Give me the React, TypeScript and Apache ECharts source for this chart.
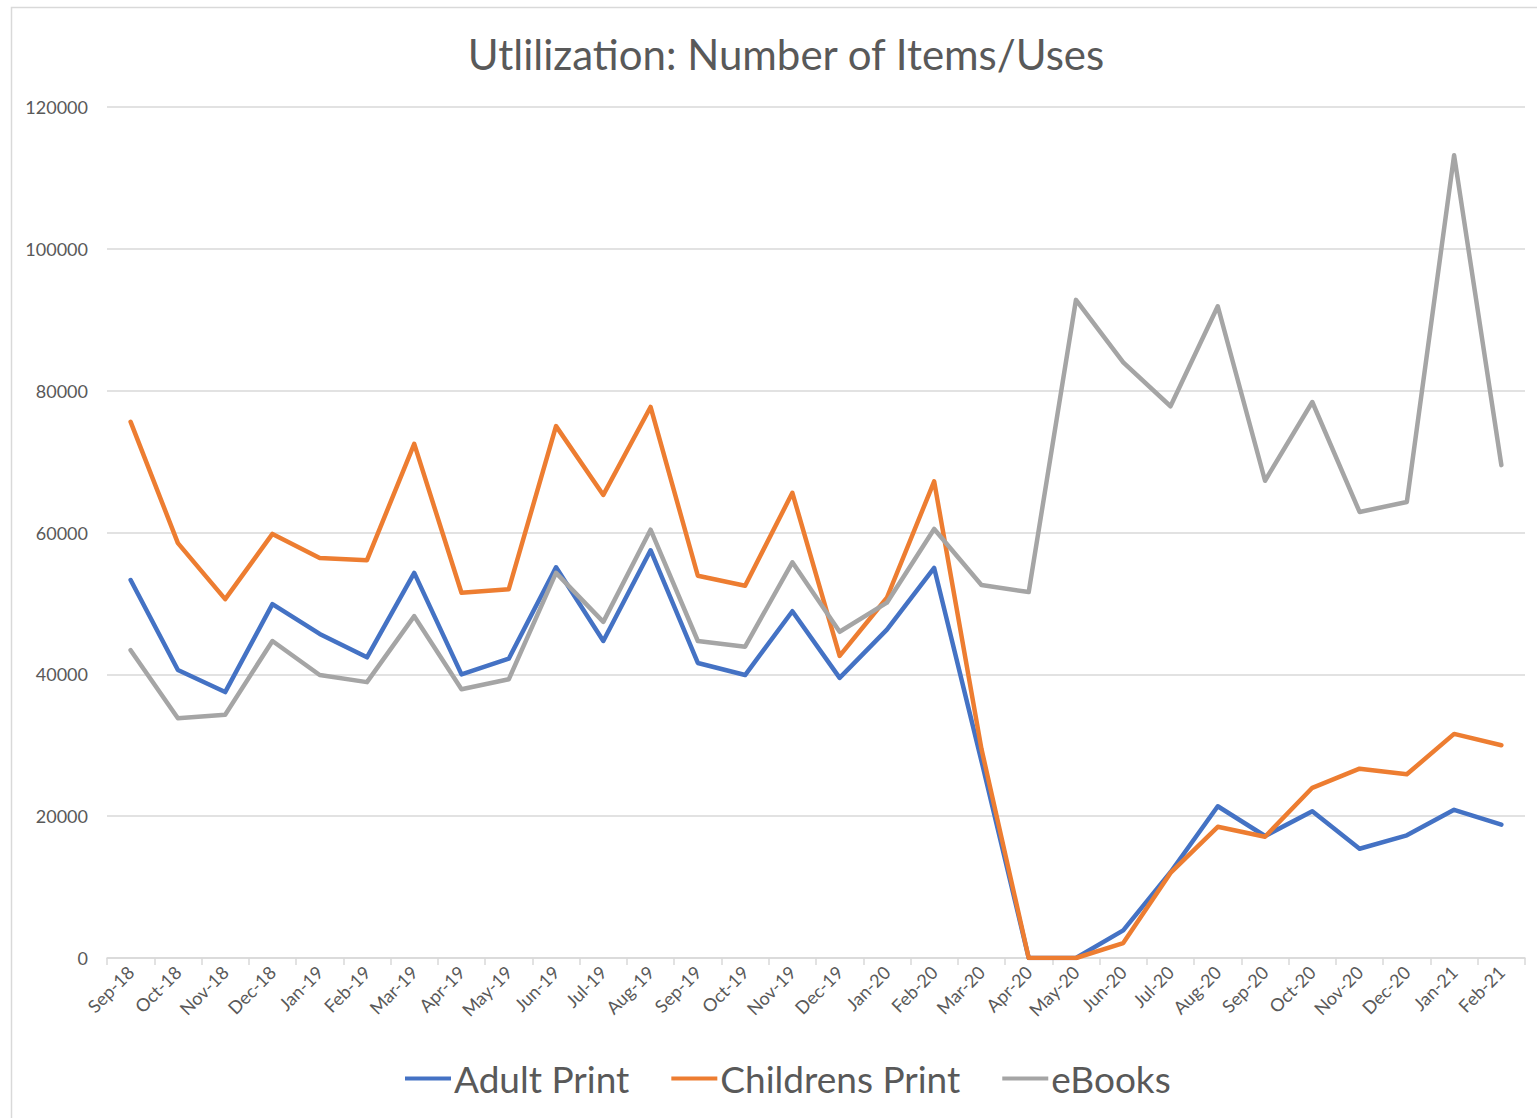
import React, { useEffect, useRef } from "react";
import * as echarts from "echarts";

const categories = [
  "Sep-18", "Oct-18", "Nov-18", "Dec-18", "Jan-19", "Feb-19", "Mar-19", "Apr-19", "May-19", "Jun-19",
  "Jul-19", "Aug-19", "Sep-19", "Oct-19", "Nov-19", "Dec-19", "Jan-20", "Feb-20", "Mar-20", "Apr-20",
  "May-20", "Jun-20", "Jul-20", "Aug-20", "Sep-20", "Oct-20", "Nov-20", "Dec-20", "Jan-21", "Feb-21",
];

const adultPrint = [
  53300, 40600, 37500, 49900, 45700, 42400, 54300, 40000, 42200, 55100,
  44700, 57500, 41600, 39900, 48900, 39500, 46300, 55000, 27800, 0,
  0, 3900, 12100, 21400, 17200, 20700, 15400, 17300, 20900, 18800,
];

const childrensPrint = [
  75600, 58500, 50600, 59800, 56400, 56100, 72500, 51500, 52000, 75000,
  65300, 77700, 53900, 52500, 65600, 42600, 50800, 67200, 29500, 0,
  0, 2100, 12000, 18500, 17100, 24000, 26700, 25900, 31600, 30000,
];

const eBooks = [
  43400, 33800, 34300, 44700, 39900, 38900, 48200, 37900, 39300, 54300,
  47400, 60400, 44700, 43900, 55800, 46000, 50100, 60500, 52600, 51600,
  92800, 84000, 77800, 91900, 67300, 78400, 62900, 64300, 113200, 69500,
];

const yTicks = { min: 0, max: 120000, interval: 20000 };

const FONT = "Lato, 'Open Sans', sans-serif";
const TEXT = "#595959";

export default function App() {
  const ref = useRef<HTMLDivElement>(null);
  useEffect(() => {
    if (!ref.current) return;
    const chart = echarts.init(ref.current, undefined, { renderer: "svg" });
    const mk = (name: string, data: number[], color: string) => ({
      name,
      type: "line",
      data,
      symbol: "none",
      lineStyle: { width: 4.5, color, cap: "round", join: "round" },
      itemStyle: { color },
    });
    chart.setOption({
      animation: false,
      backgroundColor: "#ffffff",
      textStyle: { fontFamily: FONT },
      title: {
        text: "Utlilization: Number of Items/Uses",
        left: 781,
        textAlign: "center",
        top: 28,
        textStyle: { fontFamily: FONT, fontSize: 42, fontWeight: "normal", color: TEXT },
      },
      graphic: [
        {
          type: "rect",
          shape: { x: 11.5, y: 7.5, width: 1540, height: 1130 },
          style: { fill: "none", stroke: "#d9d9d9", lineWidth: 1.5 },
          silent: true,
        },
      ],
      legend: {
        bottom: 16,
        left: 400,
        itemWidth: 46,
        itemHeight: 4,
        itemGap: 42,
        icon: "rect",
        textStyle: { fontFamily: FONT, fontSize: 37, color: TEXT, padding: [0, 0, 0, -2] },
        data: ["Adult Print", "Childrens Print", "eBooks"],
      },
      grid: { left: 107, right: 12, top: 107, bottom: 160, containLabel: false },
      xAxis: {
        type: "category",
        data: categories,
        boundaryGap: true,
        axisLine: { show: true, lineStyle: { color: "#d9d9d9", width: 1.5 } },
        axisTick: { show: true, length: 7, lineStyle: { color: "#d9d9d9", width: 1.5 } },
        axisLabel: {
          rotate: 45,
          interval: 0,
          fontFamily: FONT,
          fontSize: 18,
          color: TEXT,
          margin: 11,
        },
      },
      yAxis: {
        type: "value",
        min: yTicks.min,
        max: yTicks.max,
        interval: yTicks.interval,
        axisLine: { show: false },
        axisTick: { show: false },
        splitLine: { lineStyle: { color: "#d9d9d9", width: 1.5 } },
        axisLabel: {
          fontFamily: FONT,
          fontSize: 18,
          color: TEXT,
          margin: 19,
          formatter: (v: number) => String(v),
        },
      },
      series: [
        mk("Adult Print", adultPrint, "#4472C4"),
        mk("Childrens Print", childrensPrint, "#ED7D31"),
        mk("eBooks", eBooks, "#A5A5A5"),
      ],
    });
    return () => chart.dispose();
  }, []);
  return (
    <div
      ref={ref}
      style={{ position: "absolute", left: 0, top: 0, width: 1537, height: 1118, background: "#fff" }}
    />
  );
}
